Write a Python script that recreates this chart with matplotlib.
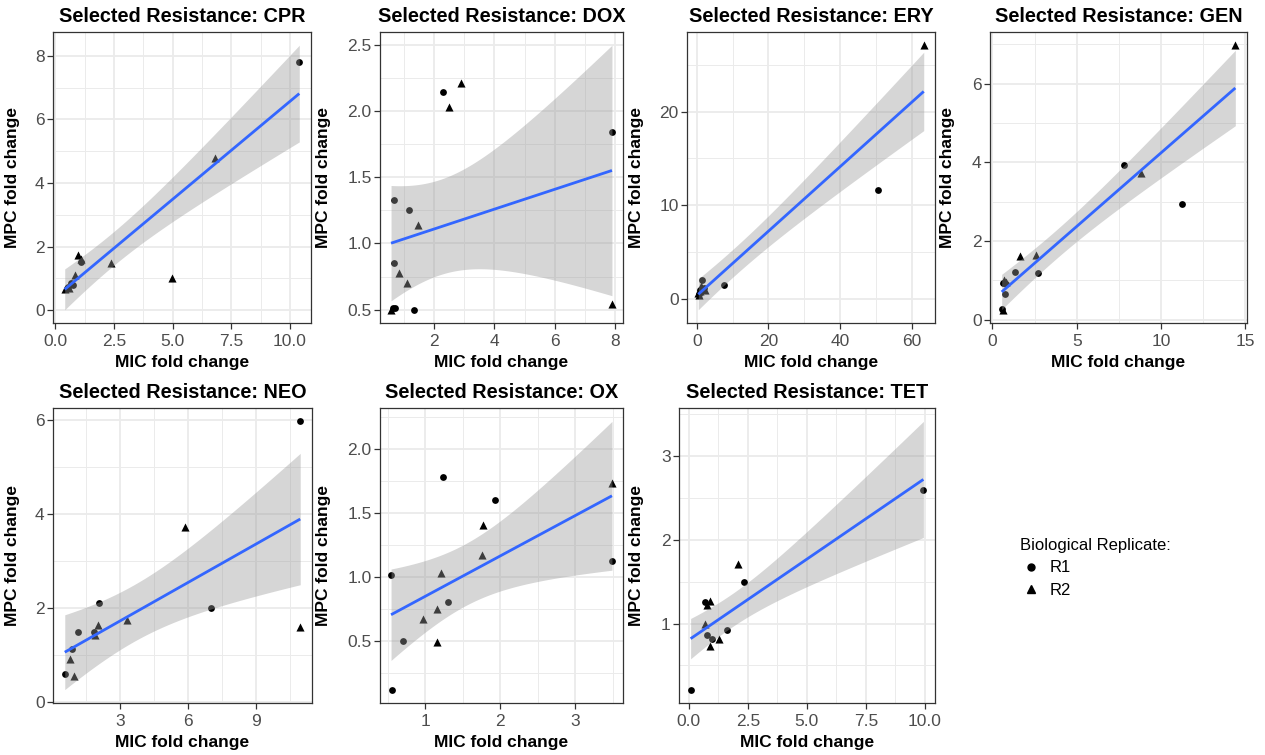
import numpy as np
import matplotlib
matplotlib.use("Agg")
import matplotlib.pyplot as plt
from matplotlib.ticker import FixedLocator, MultipleLocator
from matplotlib.lines import Line2D

plt.rcParams['font.family'] = ['Liberation Sans', 'DejaVu Sans']

# ---------------- data ----------------
panel_names = ["CPR", "DOX", "ERY", "GEN", "NEO", "OX", "TET"]

cpr_r1_x = [10.40, 0.68, 0.55, 0.75, 1.10]
cpr_r1_y = [7.80, 0.85, 0.72, 0.80, 1.50]
cpr_r2_x = [6.81, 4.99, 2.39, 0.97, 1.08, 0.83, 0.40, 0.60]
cpr_r2_y = [4.78, 1.01, 1.47, 1.73, 1.60, 1.10, 0.67, 0.70]

dox_r1_x = [2.31, 7.89, 0.69, 1.17, 0.69, 0.63, 0.72, 1.35]
dox_r1_y = [2.14, 1.84, 1.33, 1.25, 0.855, 0.51, 0.51, 0.50]
dox_r2_x = [2.91, 2.49, 1.46, 0.85, 1.12, 7.89, 0.58]
dox_r2_y = [2.21, 2.03, 1.14, 0.775, 0.705, 0.54, 0.50]

ery_r1_x = [50.5, 7.46, 1.4, 0.8, 1.9, 0.5]
ery_r1_y = [11.67, 1.51, 2.0, 0.9, 1.2, 0.5]
ery_r2_x = [63.4, 0.4, 1.0, 1.5, 2.2, 0.7, 1.2]
ery_r2_y = [27.1, 0.6, 0.8, 1.2, 1.0, 0.4, 1.4]

gen_r1_x = [7.79, 11.24, 1.34, 2.72, 0.65, 0.73, 0.55, 0.80]
gen_r1_y = [3.93, 2.95, 1.20, 1.19, 0.92, 0.65, 0.28, 0.90]
gen_r2_x = [14.4, 8.78, 1.66, 2.60, 0.70, 0.78, 0.65]
gen_r2_y = [6.98, 3.74, 1.62, 1.64, 1.02, 0.95, 0.25]

neo_r1_x = [10.93, 7.0, 2.05, 1.82, 1.14, 0.89, 0.55]
neo_r1_y = [5.98, 2.0, 2.11, 1.49, 1.49, 1.12, 0.59]
neo_r2_x = [5.86, 10.93, 2.01, 3.28, 1.90, 0.77, 0.96]
neo_r2_y = [3.72, 1.60, 1.64, 1.74, 1.42, 0.91, 0.54]

ox_r1_x = [1.24, 1.93, 3.49, 0.54, 1.30, 0.70, 0.55]
ox_r1_y = [1.777, 1.60, 1.12, 1.01, 0.80, 0.50, 0.12]
ox_r2_x = [3.49, 1.77, 1.76, 1.21, 1.16, 0.97, 1.16]
ox_r2_y = [1.73, 1.40, 1.17, 1.03, 0.75, 0.67, 0.49]

tet_r1_x = [9.93, 2.32, 0.69, 0.77, 1.62, 1.00, 0.08]
tet_r1_y = [2.60, 1.50, 1.26, 0.86, 0.92, 0.81, 0.21]
tet_r2_x = [2.10, 0.92, 0.78, 0.70, 1.26, 0.91]
tet_r2_y = [1.71, 1.27, 1.22, 1.00, 0.82, 0.73]

xticks = {
    "CPR": [0, 2.5, 5, 7.5, 10], "DOX": [2, 4, 6, 8], "ERY": [0, 20, 40, 60],
    "GEN": [0, 5, 10, 15], "NEO": [3, 6, 9], "OX": [1, 2, 3], "TET": [0, 2.5, 5, 7.5, 10],
}
xticklabels = {
    "CPR": ["0.0", "2.5", "5.0", "7.5", "10.0"], "DOX": ["2", "4", "6", "8"],
    "ERY": ["0", "20", "40", "60"], "GEN": ["0", "5", "10", "15"], "NEO": ["3", "6", "9"],
    "OX": ["1", "2", "3"], "TET": ["0.0", "2.5", "5.0", "7.5", "10.0"],
}
yticks = {
    "CPR": [0, 2, 4, 6, 8], "DOX": [0.5, 1.0, 1.5, 2.0, 2.5], "ERY": [0, 10, 20],
    "GEN": [0, 2, 4, 6], "NEO": [0, 2, 4, 6], "OX": [0.5, 1.0, 1.5, 2.0], "TET": [1, 2, 3],
}
yticklabels = {
    "CPR": ["0", "2", "4", "6", "8"], "DOX": ["0.5", "1.0", "1.5", "2.0", "2.5"],
    "ERY": ["0", "10", "20"], "GEN": ["0", "2", "4", "6"], "NEO": ["0", "2", "4", "6"],
    "OX": ["0.5", "1.0", "1.5", "2.0"], "TET": ["1", "2", "3"],
}

data = {
    "CPR": (cpr_r1_x, cpr_r1_y, cpr_r2_x, cpr_r2_y),
    "DOX": (dox_r1_x, dox_r1_y, dox_r2_x, dox_r2_y),
    "ERY": (ery_r1_x, ery_r1_y, ery_r2_x, ery_r2_y),
    "GEN": (gen_r1_x, gen_r1_y, gen_r2_x, gen_r2_y),
    "NEO": (neo_r1_x, neo_r1_y, neo_r2_x, neo_r2_y),
    "OX": (ox_r1_x, ox_r1_y, ox_r2_x, ox_r2_y),
    "TET": (tet_r1_x, tet_r1_y, tet_r2_x, tet_r2_y),
}

# ---------------- layout (pixels) ----------------
W, H = 1265, 755
boxes = {  # left, right, top, bottom, ylabel-x
    "CPR": (53, 311, 32, 323, 20),
    "DOX": (380, 623, 32, 323, 331),
    "ERY": (687, 935, 32, 323, 644),
    "GEN": (990, 1247, 32, 323, 955),
    "NEO": (53, 312, 408, 703, 20),
    "OX": (380, 623, 408, 703, 331),
    "TET": (679, 935, 408, 703, 644),
}


def t975(df):
    z = 1.959964
    return (z + (z**3 + z) / (4 * df) + (5 * z**5 + 16 * z**3 + 3 * z) / (96 * df**2)
            + (3 * z**7 + 19 * z**5 + 17 * z**3 - 15 * z) / (384 * df**3))


fig = plt.figure(figsize=(W / 100, H / 100), dpi=100)
fig.patch.set_facecolor("white")

for name in panel_names:
    l, r, t, b, ylx = boxes[name]
    ax = fig.add_axes([l / W, 1 - b / H, (r - l) / W, (b - t) / H])
    x1, y1, x2, y2 = [np.asarray(a, float) for a in data[name]]
    ax.scatter(x1, y1, s=24, marker="o", color="black", linewidths=0, zorder=3)
    ax.scatter(x2, y2, s=34, marker="^", color="black", linewidths=0, zorder=3)

    # linear fit with 95% CI
    xs = np.concatenate([x1, x2])
    ys = np.concatenate([y1, y2])
    n = len(xs)
    b1, b0 = np.polyfit(xs, ys, 1)
    resid = ys - (b0 + b1 * xs)
    s = np.sqrt(np.sum(resid**2) / (n - 2))
    xbar = xs.mean()
    sxx = np.sum((xs - xbar) ** 2)
    xg = np.linspace(xs.min(), xs.max(), 80)
    yg = b0 + b1 * xg
    se = s * np.sqrt(1 / n + (xg - xbar) ** 2 / sxx)
    tq = t975(n - 2)
    ax.fill_between(xg, yg - tq * se, yg + tq * se, color="#999999", alpha=0.4,
                    linewidth=0, zorder=4)
    ax.plot(xg, yg, color="#3366FF", linewidth=2.0, zorder=5, solid_capstyle="butt")

    ax.margins(0.05)
    ax.xaxis.set_major_locator(FixedLocator(xticks[name]))
    ax.yaxis.set_major_locator(FixedLocator(yticks[name]))
    ax.set_xticklabels(xticklabels[name])
    ax.set_yticklabels(yticklabels[name])
    xs_step = xticks[name][1] - xticks[name][0]
    ys_step = yticks[name][1] - yticks[name][0]
    ax.xaxis.set_minor_locator(MultipleLocator(xs_step / 2))
    ax.yaxis.set_minor_locator(MultipleLocator(ys_step / 2))
    ax.grid(True, which="major", color="#EBEBEB", linewidth=1.3, zorder=0)
    ax.grid(True, which="minor", color="#EBEBEB", linewidth=0.7, zorder=0)
    ax.set_axisbelow(True)
    ax.tick_params(which="minor", length=0)
    ax.tick_params(which="major", direction="out", length=4, width=0.9, color="#333333",
                   labelsize=12.5, labelcolor="#4D4D4D", pad=2)
    ax.tick_params(axis="x", which="major", pad=4)
    for sp in ax.spines.values():
        sp.set_color("#333333")
        sp.set_linewidth(0.9)

    ax.set_title(f"Selected Resistance: {name}", fontsize=14.3, fontweight="bold", pad=7)
    ax.set_xlabel("MIC fold change", fontsize=12.5, fontweight="bold", labelpad=4)
    ax.set_ylabel("MPC fold change", fontsize=12.5, fontweight="bold")
    # position y label at fixed pixel x
    inv = ax.transAxes.inverted()
    xa, _ = inv.transform((ylx, 0))
    ax.yaxis.set_label_coords(xa, 0.5)

handles = [
    Line2D([], [], linestyle="none", marker="o", color="black", markersize=5),
    Line2D([], [], linestyle="none", marker="^", color="black", markersize=6),
]
leg = fig.legend(handles, ["R1", "R2"], title="Biological Replicate:", frameon=False,
                 loc="upper left", bbox_to_anchor=(1005 / W, 1 - 523 / H),
                 fontsize=12, title_fontsize=12, handletextpad=0.5, labelspacing=0.45,
                 handlelength=1.3)
leg._legend_box.align = "left"

fig.savefig("out.png", dpi=100, facecolor="white")
